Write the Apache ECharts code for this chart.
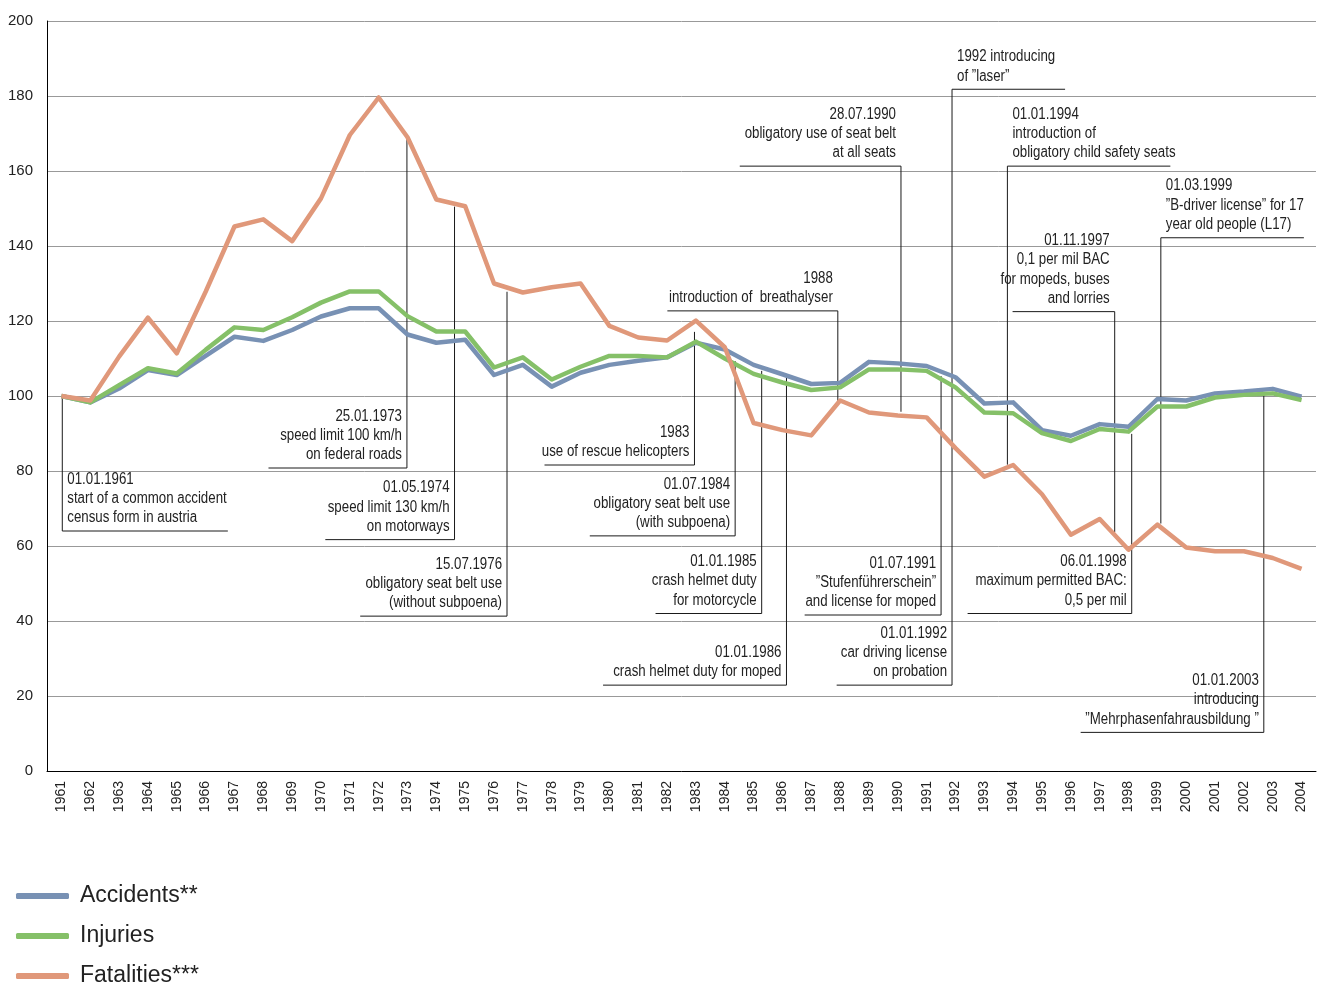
<!DOCTYPE html>
<html>
<head>
<meta charset="utf-8">
<script src="https://cdn.jsdelivr.net/npm/echarts@6/dist/echarts.min.js"></script>
<style>
  html, body { margin: 0; padding: 0; background: #fff; }
  #main { width: 1321px; height: 988px; }
</style>
</head>
<body>
<div id="main"></div>
<script>
var myChart = echarts.init(document.getElementById('main'));

var years = [];
for (var y = 1961; y <= 2004; y++) years.push(String(y));

var yTicks = [0, 20, 40, 60, 80, 100, 120, 140, 160, 180, 200];

// index 1961 = 100
var accidents = [100, 98.3, 102, 106.9, 105.6, 110.7, 115.8, 114.7, 117.6, 121.2,
	123.4, 123.4, 116.4, 114.2, 115.0, 105.6, 108.3, 102.5, 106.2, 108.3,
	109.4, 110.3, 114.2, 112.4, 108.3, 105.8, 103.2, 103.5, 109.1, 108.7,
	108.0, 105.0, 98.0, 98.3, 90.9, 89.4, 92.5, 91.8, 99.2, 98.8,
	100.7, 101.2, 101.9, 99.8];
var injuries = [100, 98.3, 102.9, 107.4, 106.0, 112.3, 118.3, 117.6, 121.0, 124.9,
	127.9, 127.9, 121.3, 117.2, 117.2, 107.6, 110.3, 104.4, 107.8, 110.7,
	110.7, 110.3, 114.5, 110.0, 105.9, 103.6, 101.6, 102.3, 107.1, 107.1,
	106.7, 102.3, 95.6, 95.4, 90.1, 88.0, 91.2, 90.5, 97.2, 97.2,
	99.6, 100.3, 100.7, 98.9];
var fatalities = [100, 98.8, 110.5, 120.9, 111.4, 127.8, 145.2, 147.1, 141.3, 152.7,
	169.6, 179.6, 169.0, 152.4, 150.6, 130.0, 127.6, 129.0, 130.0, 118.7,
	115.6, 114.8, 120.1, 113.0, 92.8, 90.9, 89.5, 98.8, 95.6, 94.8,
	94.3, 86.1, 78.5, 81.6, 73.8, 63.0, 67.2, 59.0, 65.7, 59.6,
	58.6, 58.6, 56.8, 53.9];

var seriesNames = ['Accidents**', 'Injuries', 'Fatalities***'];
var seriesColors = ['#7891b4', '#85c068', '#e0987a'];

// notes: [x (year index), value where the leader starts, value of the underline, x where the underline ends, text side, lines]
var notes = [
	[0.03, 100, 64.0, 5.77, 'left', ['01.01.1961', 'start of a common accident', 'census form in austria']],
	[11.98, 168.7, 80.8, 7.18, 'right', ['25.01.1973', 'speed limit 100 km/h', 'on federal roads']],
	[13.63, 150.5, 61.7, 9.15, 'right', ['01.05.1974', 'speed limit 130 km/h', 'on motorways']],
	[15.45, 127.8, 41.3, 10.36, 'right', ['15.07.1976', 'obligatory seat belt use', '(without subpoena)']],
	[21.95, 117.1, 81.6, 16.75, 'right', ['1983', 'use of rescue helicopters']],
	[23.36, 109.3, 62.7, 18.32, 'right', ['01.07.1984', 'obligatory seat belt use', '(with subpoena)']],
	[24.28, 106.7, 42.0, 20.60, 'right', ['01.01.1985', 'crash helmet duty', 'for motorcycle']],
	[25.14, 105.8, 22.9, 18.78, 'right', ['01.01.1986', 'crash helmet duty for moped']],
	[26.92, 98.7, 122.7, 21.01, 'right', ['1988', 'introduction of  breathalyser']],
	[29.11, 95.8, 161.3, 23.52, 'right', ['28.07.1990', 'obligatory use of seat belt', 'at all seats']],
	[30.88, 104.0, 181.8, 34.80, 'left', ['1992 introducing', 'of \u201dlaser\u201d']],
	[30.50, 105.3, 41.6, 25.77, 'right', ['01.07.1991', '\u201dStufenführerschein\u201d', 'and license for moped']],
	[30.88, 104.0, 22.9, 26.88, 'right', ['01.01.1992', 'car driving license', 'on probation']],
	[32.80, 81.7, 161.3, 38.45, 'left', ['01.01.1994', 'introduction of', 'obligatory child safety seats']],
	[36.52, 63.7, 122.5, 32.98, 'right', ['01.11.1997', '0,1 per mil BAC', 'for mopeds, buses', 'and lorries']],
	[37.11, 89.9, 42.0, 31.42, 'right', ['06.01.1998', 'maximum permitted BAC:', '0,5 per mil']],
	[38.12, 66.0, 142.2, 43.08, 'left', ['01.03.1999', '\u201dB-driver license\u201d for 17', 'year old people (L17)']],
	[41.69, 100.3, 10.3, 35.34, 'right', ['01.01.2003', 'introducing', '\u201dMehrphasenfahrausbildung \u201d']]
];

var plain = '"Liberation Sans", Arial, sans-serif';

var series = [];
for (var i = 0; i < 3; i++) {
	series.push({
		name: seriesNames[i],
		type: 'line',
		data: [accidents, injuries, fatalities][i],
		symbol: 'none',
		z: 3,
		lineStyle: { width: 4.5, color: seriesColors[i], join: 'round' },
		itemStyle: { color: seriesColors[i] }
	});
}
notes.forEach(function (n) {
	series.push({
		type: 'line',
		xAxisIndex: 1,
		data: [[n[0], n[1]], [n[0], n[2]], [n[3], n[2]]],
		symbol: 'none',
		silent: true,
		z: 1,
		lineStyle: { width: 1, color: '#1a1a1a' }
	});
});

myChart.setOption({
	backgroundColor: '#fff',
	animation: false,
	grid: { left: 47, right: 5, top: 21, bottom: 217 },
	legend: {
		data: seriesNames,
		orient: 'vertical',
		left: 16,
		top: 884,
		height: 115,
		padding: 0,
		itemWidth: 53,
		itemHeight: 6,
		itemGap: 16,
		icon: 'roundRect',
		textStyle: { fontSize: 23, lineHeight: 24, color: '#222', fontFamily: plain, padding: [0, 0, 0, 6] }
	},
	xAxis: [{
		type: 'category',
		data: years,
		boundaryGap: true,
		axisLine: { onZero: false, lineStyle: { color: '#000', width: 1 } },
		axisTick: { inside: true, length: 6, lineStyle: { color: '#000' } },
		axisLabel: { rotate: 90, fontSize: 14, margin: 10, color: '#222', fontFamily: plain, interval: 0 },
		splitLine: { show: false }
	}, {
		type: 'value',
		min: -0.5,
		max: 43.5,
		show: false
	}],
	yAxis: {
		type: 'value',
		min: yTicks[0],
		max: yTicks[yTicks.length - 1],
		interval: 20,
		axisLine: { show: true, onZero: false, lineStyle: { color: '#000', width: 1 } },
		axisTick: { show: false },
		axisLabel: { fontSize: 15, margin: 14, color: '#222', fontFamily: plain },
		splitLine: { lineStyle: { color: '#999', width: 1 } }
	},
	series: series
});

// note texts, placed from the same axes; squeezed to look like a condensed face
var graphics = [];
notes.forEach(function (n) {
	var p = myChart.convertToPixel({ xAxisIndex: 1, yAxisIndex: 0 }, [n[0], n[2]]);
	var left = n[4] === 'left';
	graphics.push({
		type: 'text',
		x: left ? p[0] + 5 : p[0] - 5,
		y: p[1] - 3.5,
		scaleX: 0.83,
		silent: true,
		style: {
			text: n[5].join('\n'),
			fontSize: 16,
			fontFamily: plain,
			lineHeight: 19.3,
			fill: '#222',
			align: left ? 'left' : 'right',
			verticalAlign: 'bottom'
		}
	});
});
myChart.setOption({ graphic: graphics });
</script>
</body>
</html>
